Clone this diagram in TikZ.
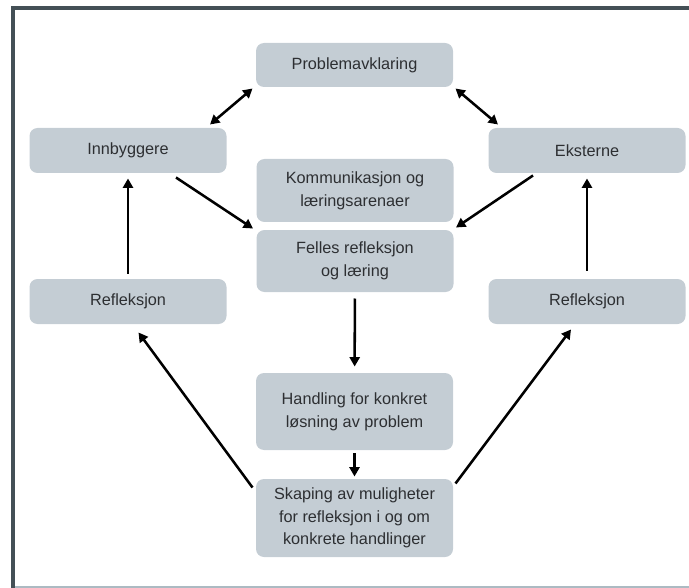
\documentclass[tikz,border=0pt]{standalone}
\usepackage{fontspec}
\setmainfont{Liberation Sans}
\usetikzlibrary{arrows.meta,calc}

\definecolor{boxfill}{RGB}{196,205,212}
\definecolor{boxtext}{RGB}{45,47,50}
\definecolor{framedark}{RGB}{68,80,86}
\definecolor{framelight}{RGB}{172,186,194}

\tikzset{every picture/.style={line width=0.75pt}}
\tikzset{
  box/.style={fill=boxfill, rounded corners=6pt, text=boxtext, align=center,
    minimum width=147.75pt, inner sep=0pt, font=\fontsize{12.2}{17}\selectfont},
  arr/.style={line width=1.9pt, -{Triangle[length=7pt,width=7.5pt]}},
  dblarr/.style={line width=1.9pt, {Triangle[length=7pt,width=7.5pt]}-{Triangle[length=7pt,width=7.5pt]}}
}

\begin{document}
\begin{tikzpicture}[x=0.75pt,y=0.75pt,yscale=-1,xscale=1]
\useasboundingbox (0,0) rectangle (689,588);

%Frame
\draw [framedark, line width=3pt] (689,8.5) -- (13,8.5) -- (13,588) ;
\draw [framelight, line width=1.5pt] (15,586.5) -- (689,586.5) ;

% Text Node
\node [box, minimum height=33pt] (prob) at (354.5,65) {Problemavklaring};
% Text Node
\node [box, minimum height=33.75pt] (inn) at (128,150.5) {Innbyggere};
% Text Node
\node [box, minimum height=33.75pt] (eks) at (587,150.5) {Eksterne};
% Text Node
\node [box, minimum height=47.25pt] (komm) at (355,190.5) {Kommunikasjon og\\læringsarenaer};
% Text Node
\node [box, minimum height=46.5pt] (felles) at (355,261) {Felles refleksjon\\og læring};
% Text Node
\node [box, minimum height=33.75pt] (reflL) at (128,301.5) {Refleksjon};
% Text Node
\node [box, minimum height=33.75pt] (reflR) at (587,301.5) {Refleksjon};
% Text Node
\node [box, minimum height=57.75pt] (handl) at (354.5,411.5) {Handling for konkret\\løsning av problem};
% Text Node
\node [box, minimum height=58.5pt] (skap) at (354.5,518) {Skaping av muligheter\\for refleksjon i og om\\konkrete handlinger};

%Double arrows to Problemavklaring
\draw [dblarr] ($(prob.south west)+(-3,1)$) -- ($(inn.north east)+(-17,-3)$) ;
\draw [dblarr] ($(prob.south east)+(2,1)$) -- ($(eks.north west)+(10,-3)$) ;
%Into Felles refleksjon
\draw [arr] ($(inn.south east)+(-51,4)$) -- ($(felles.north west)+(-3,-1)$) ;
\draw [arr] ($(eks.south west)+(45,2)$) -- ($(felles.north east)+(2,-2)$) ;
%Down the middle
\draw [arr, shorten <=4.5pt, shorten >=4.5pt] (felles) -- (handl) ;
\draw [arr, shorten <=2pt, shorten >=1.5pt] (handl) -- (skap) ;
%Up the sides
\draw [arr, shorten <=3.75pt, shorten >=3.75pt] (reflL) -- (inn) ;
\draw [arr, shorten <=6pt, shorten >=3.75pt] (reflR) -- (eks) ;
%Back to Refleksjon
\draw [arr] ($(skap.north west)+(-3,9)$) -- ($(reflL.south)+(10.5,8)$) ;
\draw [arr] ($(skap.north east)+(2,5)$) -- ($(reflR.south)+(-16,5)$) ;

\end{tikzpicture}
\end{document}
